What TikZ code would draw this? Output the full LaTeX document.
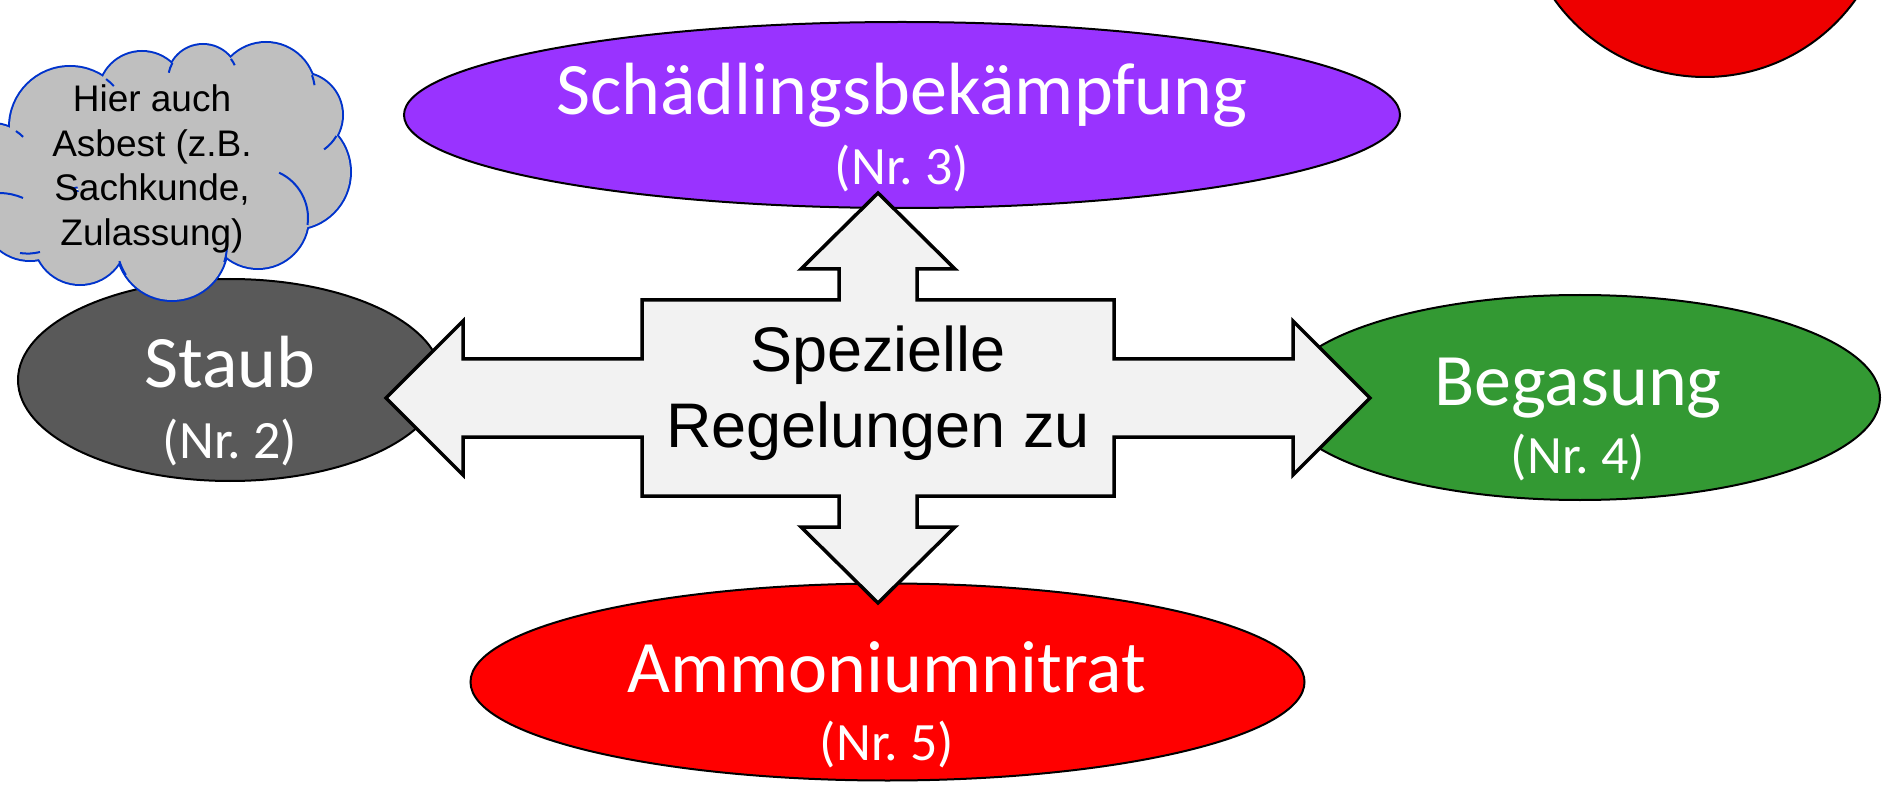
\documentclass[tikz,border=0pt]{standalone}
\usepackage{fontspec}
\setmainfont{Liberation Sans}
\newfontfamily\calib{Carlito}
\usetikzlibrary{shapes.geometric,calc}

\definecolor{violettfill}{HTML}{9933FF}
\definecolor{staubgrau}{HTML}{595959}
\definecolor{gasgruen}{HTML}{339933}
\definecolor{nitratrot}{HTML}{FF0000}
\definecolor{kreisrot}{HTML}{EE0000}
\definecolor{pfeilgrau}{HTML}{F2F2F2}
\definecolor{wolkengrau}{HTML}{BFBFBF}
\definecolor{wolkenblau}{HTML}{0033CC}

\begin{document}
\begin{tikzpicture}[x=1pt,y=-1pt,
  topic/.style={ellipse, draw=black, line width=2pt, inner sep=0pt, outer sep=0pt},
  title/.style={text=white, font=\calib\fontsize{74}{80}\selectfont, inner sep=0pt, anchor=base},
  number/.style={text=white, font=\calib\fontsize{54}{60}\selectfont, inner sep=0pt, anchor=base},
  quadarrow/.style={draw=black, fill=pfeilgrau, line width=3.5pt, line join=miter},
  lobeline/.style={draw=wolkenblau, line width=4pt},
  lobefill/.style={fill=wolkengrau},
  hook/.style={draw=wolkenblau, line width=2pt},
  notetext/.style={inner sep=0pt, anchor=base, font=\fontsize{37}{44.4}\selectfont},
  centertext/.style={inner sep=0pt, anchor=base, font=\fontsize{63}{77}\selectfont}
]
\useasboundingbox (0,0) rectangle (1883,786);

% red disc cut by the upper edge
\node[circle, draw=black, line width=2pt, fill=kreisrot, minimum size=370pt, inner sep=0pt] (disc) at (1705,-108) {};

% topic ellipses
\node[topic, fill=violettfill, minimum width=996pt, minimum height=186pt] (schaedling) at (902,115) {};
\node[topic, fill=staubgrau, minimum width=424pt, minimum height=202pt] (staub) at (230,380) {};
\node[topic, fill=gasgruen, minimum width=600pt, minimum height=205pt] (begasung) at (1580,397.5) {};
\node[topic, fill=nitratrot, minimum width=834pt, minimum height=197pt] (nitrat) at (887.5,682) {};

\node[title] (schaedlingT) at (902,115) {Schädlingsbekämpfung};
\node[number] (schaedlingN) at (902,185) {(Nr.~3)};
\node[title] (staubT) at (230,388) {Staub};
\node[number] (staubN) at (230,458) {(Nr.~2)};
\node[title] (begasungT) at (1578,405) {Begasung};
\node[number] (begasungN) at (1578,473) {(Nr.~4)};
\node[title] (nitratT) at (887,692) {Ammoniumnitrat};
\node[number] (nitratN) at (887,760) {(Nr.~5)};

% cloud: outlined lobes, then the fill covers the inner parts of the strokes
\foreach \x/\y/\r in {70/127/60, 142/95/43, 203/80/35, 266/92/49, 300/115/42,
                      293/172/57, 258/218/50, 172/245/55, 80/238/46, 30/212/48, -8/168/44}
  \path[lobeline] (\x,\y) circle (\r);
\foreach \x/\y/\r in {70/127/60, 142/95/43, 203/80/35, 266/92/49, 300/115/42,
                      293/172/57, 258/218/50, 172/245/55, 80/238/46, 30/212/48, -8/168/44, 170/165/95}
  \path[lobefill] (\x,\y) circle (\r);
% inner arcs of the cloud
\draw[hook] (-8,168) ++(-57:44) arc[start angle=-57, end angle=-45, radius=44];
\draw[hook] (70,127) ++(-53:60) arc[start angle=-53, end angle=-43, radius=60];
\draw[hook] (203,80) ++(-151:35) arc[start angle=-151, end angle=-168, radius=35];
\draw[hook] (203,80) ++(-37:35) arc[start angle=-37, end angle=-25, radius=35];
\draw[hook] (266,92) ++(-20:49) arc[start angle=-20, end angle=-8, radius=49];
\draw[hook] (300,115) ++(30:42) arc[start angle=30, end angle=55, radius=42];
\draw[hook] (258,218) ++(8:50) arc[start angle=8, end angle=-65, radius=50];
\draw[hook] (172,245) ++(18:55) arc[start angle=18, end angle=-5, radius=55];
\draw[hook] (172,245) ++(147:55) arc[start angle=147, end angle=163, radius=55];
\draw[hook] (40,252) to[bend left=10] (20,253);
\draw[hook] (0,193) to[bend left=10] (23,198);

\node[notetext] (note) at (152,112)
  {\begin{tabular}[t]{@{}c@{}}Hier auch\\Asbest (z.B.\\Sachkunde,\\Zulassung)\end{tabular}};

% four-way arrow in the middle
\coordinate (mitte) at (878,398);
\begin{scope}[shift={(mitte)}]
\draw[quadarrow] (0,-205) -- (77,-129) -- (39,-129) -- (39,-98) -- (236,-98) -- (236,-39)
  -- (415,-39) -- (415,-77) -- (492,0) -- (415,77) -- (415,39) -- (236,39) -- (236,98)
  -- (39,98) -- (39,129) -- (77,129) -- (0,205) -- (-77,129) -- (-39,129) -- (-39,98)
  -- (-236,98) -- (-236,39) -- (-415,39) -- (-415,77) -- (-492,0) -- (-415,-77)
  -- (-415,-39) -- (-236,-39) -- (-236,-98) -- (-39,-98) -- (-39,-129) -- (-77,-129) -- cycle;
\end{scope}
\node[centertext] (regeln) at (878,371)
  {\begin{tabular}[t]{@{}c@{}}Spezielle\\Regelungen zu\end{tabular}};
\end{tikzpicture}
\end{document}
